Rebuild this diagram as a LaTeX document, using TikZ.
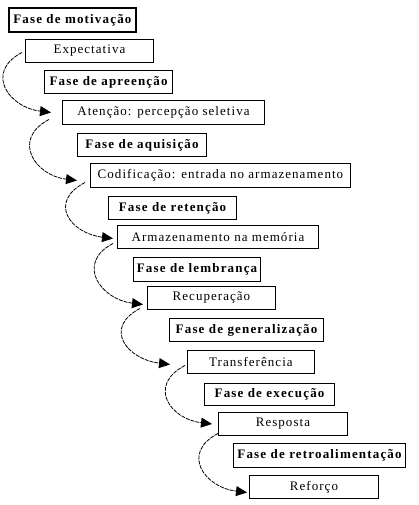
\documentclass[tikz,border=0pt]{standalone}
\usepackage{fontspec}
\setmainfont{Liberation Serif}
\newfontfamily\phasefont[LetterSpace=9]{Liberation Serif}
\newfontfamily\itemfont[LetterSpace=8]{Liberation Serif}
\usetikzlibrary{arrows.meta,calc}
\begin{document}
\begin{tikzpicture}[x=1pt,y=-1pt,
  phase/.style={draw, line width=1.1pt, anchor=north west, inner sep=0pt, font=\phasefont\bfseries\fontsize{13}{15}\selectfont},
  item/.style={draw, line width=0.9pt, anchor=north west, inner sep=0pt, font=\itemfont\fontsize{13}{15}\selectfont},
  flow/.style={line width=0.8pt, dash pattern=on 4pt off 1pt, -{Triangle[length=11pt,width=10pt]}}]
\useasboundingbox (0,0) rectangle (418,505);
\node[phase, line width=1.7pt, minimum width=127pt, minimum height=24pt] (p1) at (8,7) {Fase de motivação};
\node[item, minimum width=128pt, minimum height=23pt] (i1) at (25,39) {Expectativa};
\node[phase, minimum width=128pt, minimum height=23pt] (p2) at (44,70) {Fase de apreenção};
\node[item, minimum width=202pt, minimum height=24pt] (i2) at (62,100) {Atenção: percepção seletiva};
\node[phase, minimum width=129pt, minimum height=23pt] (p3) at (77,133) {Fase de aquisição};
\node[item, minimum width=260pt, minimum height=24pt] (i3) at (90,163) {Codificação: entrada no armazenamento};
\node[phase, minimum width=128pt, minimum height=23pt] (p4) at (108,196) {Fase de retenção};
\node[item, minimum width=201pt, minimum height=23pt] (i4) at (117,225) {Armazenamento na memória};
\node[phase, minimum width=127pt, minimum height=24pt] (p5) at (133,257) {Fase de lembrança};
\node[item, minimum width=128pt, minimum height=23pt] (i5) at (147,286) {Recuperação};
\node[phase, minimum width=154pt, minimum height=23pt] (p6) at (169,318) {Fase de generalização};
\node[item, minimum width=127pt, minimum height=23pt] (i6) at (187,350) {Transferência};
\node[phase, minimum width=130pt, minimum height=22pt] (p7) at (204,383) {Fase de execução};
\node[item, minimum width=129pt, minimum height=23pt] (i7) at (218,412) {Resposta};
\node[phase, minimum width=172pt, minimum height=24pt] (p8) at (233,443) {Fase de retroalimentação};
\node[item, minimum width=129pt, minimum height=23pt] (i8) at (249,475) {Reforço};
\draw[flow] ($(i1.west)+(-3,1.5)$) .. controls +(-38,20) and +(-42,-5) .. ($(i2.west)+(-11,0)$);
\draw[flow] ($(i2.west)+(-13,7)$) .. controls +(-38,20) and +(-42,-5) .. ($(i3.west)+(-13,5)$);
\draw[flow] ($(i3.west)+(-5,7)$) .. controls +(-38,20) and +(-42,-5) .. ($(i4.west)+(-4,1.5)$);
\draw[flow] ($(i4.west)+(-4,6.5)$) .. controls +(-38,20) and +(-42,-5) .. ($(i5.west)+(-4,6.5)$);
\draw[flow] ($(i5.west)+(-7,10.5)$) .. controls +(-38,20) and +(-42,-5) .. ($(i6.west)+(-17,2.5)$);
\draw[flow] ($(i6.west)+(-2,3.5)$) .. controls +(-38,20) and +(-42,-5) .. ($(i7.west)+(-6,0)$);
\draw[flow] ($(i7.west)+(0,9.5)$) .. controls +(-38,20) and +(-42,-5) .. ($(i8.west)+(-2,5.5)$);
\end{tikzpicture}
\end{document}
